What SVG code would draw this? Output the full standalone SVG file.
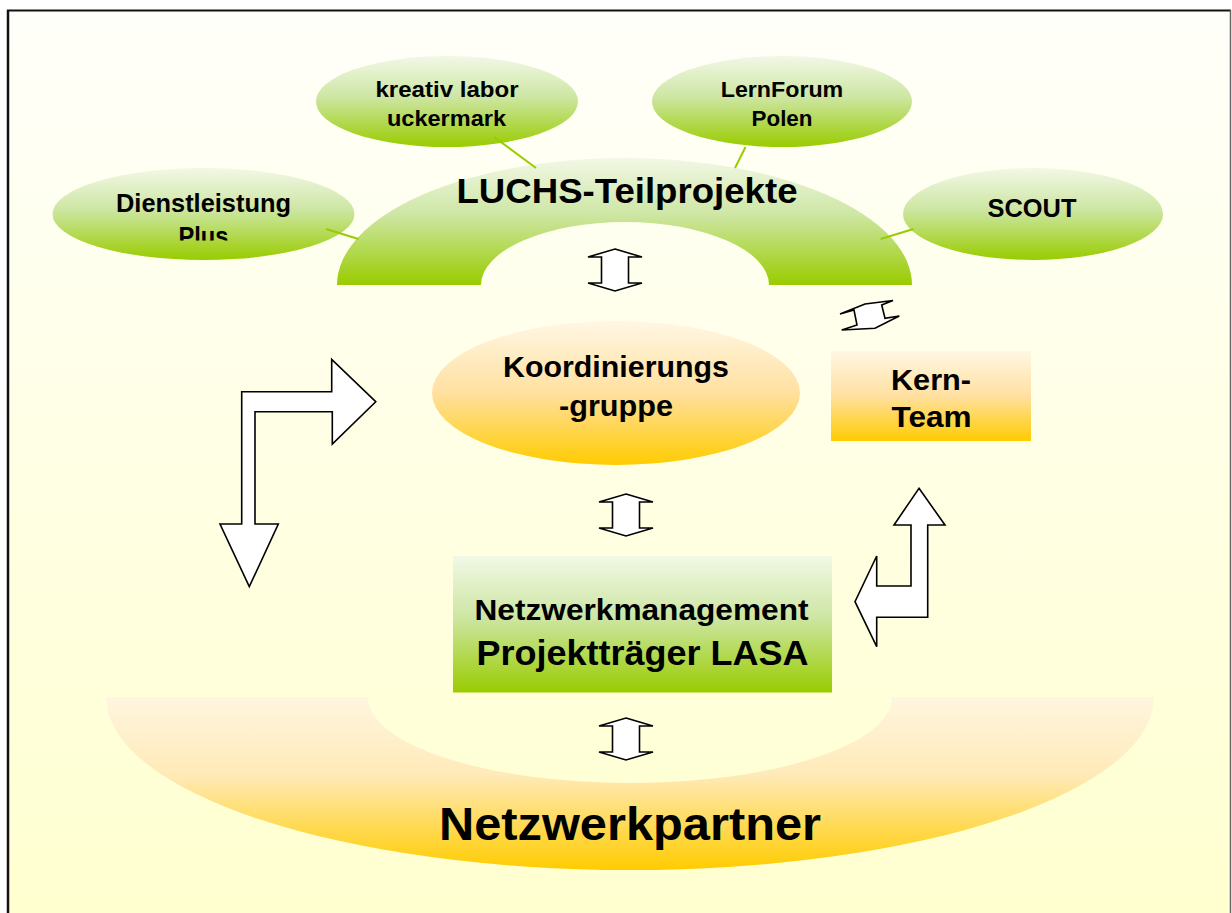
<svg xmlns="http://www.w3.org/2000/svg" width="1232" height="913" viewBox="0 0 1232 913">
  <defs>
    <linearGradient id="bg" x1="0" y1="0" x2="0" y2="1">
      <stop offset="0" stop-color="#fffffa"/>
      <stop offset="1" stop-color="#ffffd0"/>
    </linearGradient>
    <linearGradient id="green" x1="0" y1="0" x2="0" y2="1">
      <stop offset="0" stop-color="#f2f8e6"/>
      <stop offset="0.45" stop-color="#cde6a3"/>
      <stop offset="1" stop-color="#99cc00"/>
    </linearGradient>
    <linearGradient id="orange" x1="0" y1="0" x2="0" y2="1">
      <stop offset="0" stop-color="#fff7e4"/>
      <stop offset="0.5" stop-color="#ffe0a0"/>
      <stop offset="1" stop-color="#ffcc00"/>
    </linearGradient>
    <linearGradient id="orangeArch" x1="0" y1="0" x2="0" y2="1">
      <stop offset="0" stop-color="#fff6e0"/>
      <stop offset="0.45" stop-color="#ffeab8"/>
      <stop offset="1" stop-color="#ffcc00"/>
    </linearGradient>
    <clipPath id="clipDL">
      <rect x="40" y="160" width="330" height="80.5"/>
    </clipPath>
    <polygon id="dbl" points="0,0 27,8 13.5,8 13.5,34 27,34 0,42 -27,34 -13.5,34 -13.5,8 -27,8"/>
  </defs>
  <style>
    .lbl { font-family: "Liberation Sans", Arial, sans-serif; font-weight: bold; fill: #000; text-anchor: middle; }
    .arrow { fill: #ffffff; stroke: #000; stroke-width: 1.6; stroke-linejoin: miter; }
    .link { stroke: #99cc00; stroke-width: 2; fill: none; }
  </style>

  <!-- frame and background -->
  <rect x="8" y="10.5" width="1223" height="903" fill="url(#bg)"/>
  <line x1="7" y1="10.5" x2="1231" y2="10.5" stroke="#111" stroke-width="2"/>
  <line x1="8" y1="10" x2="8" y2="913" stroke="#111" stroke-width="2.5"/>
  <line x1="1230.5" y1="10" x2="1230.5" y2="913" stroke="#666" stroke-width="1.5"/>

  <!-- LUCHS-Teilprojekte arch -->
  <g id="luchs">
    <path d="M 337 285 A 287.5 127 0 0 1 912 285 L 769 285 A 144 63 0 0 0 481 285 Z" fill="url(#green)"/>
    <text class="lbl" x="627" y="203.3" font-size="35" textLength="341" lengthAdjust="spacingAndGlyphs">LUCHS-Teilprojekte</text>
  </g>

  <g id="dienstleistung">
    <ellipse cx="203.5" cy="214" rx="151" ry="46" fill="url(#green)"/>
    <g clip-path="url(#clipDL)">
      <text class="lbl" x="203.5" y="211.7" font-size="25" textLength="175" lengthAdjust="spacingAndGlyphs">Dienstleistung</text>
      <text class="lbl" x="203.5" y="244.7" font-size="25" textLength="50" lengthAdjust="spacingAndGlyphs">Plus</text>
    </g>
  </g>

  <g id="kreativ">
    <ellipse cx="447" cy="101.5" rx="131" ry="45.5" fill="url(#green)"/>
    <text class="lbl" x="447" y="97" font-size="22" textLength="143" lengthAdjust="spacingAndGlyphs">kreativ labor</text>
    <text class="lbl" x="446.5" y="125.7" font-size="22" textLength="119" lengthAdjust="spacingAndGlyphs">uckermark</text>
  </g>

  <g id="lernforum">
    <ellipse cx="782" cy="101.5" rx="130" ry="45.5" fill="url(#green)"/>
    <text class="lbl" x="782" y="97.3" font-size="22" textLength="122.5" lengthAdjust="spacingAndGlyphs">LernForum</text>
    <text class="lbl" x="782" y="125.7" font-size="22" textLength="61" lengthAdjust="spacingAndGlyphs">Polen</text>
  </g>

  <g id="scout">
    <ellipse cx="1033" cy="214" rx="130" ry="46" fill="url(#green)"/>
    <text class="lbl" x="1032" y="216.7" font-size="26" textLength="89" lengthAdjust="spacingAndGlyphs">SCOUT</text>
  </g>

  <g id="koordinierung">
    <ellipse cx="616" cy="393" rx="184" ry="72" fill="url(#orange)"/>
    <text class="lbl" x="616" y="377.3" font-size="29" textLength="226" lengthAdjust="spacingAndGlyphs">Koordinierungs</text>
    <text class="lbl" x="616" y="415.7" font-size="29" textLength="114" lengthAdjust="spacingAndGlyphs">-gruppe</text>
  </g>

  <g id="kernteam">
    <rect x="831" y="351" width="200" height="90" fill="url(#orange)"/>
    <text class="lbl" x="931" y="390" font-size="30" textLength="80" lengthAdjust="spacingAndGlyphs">Kern-</text>
    <text class="lbl" x="931.5" y="426.7" font-size="30" textLength="80" lengthAdjust="spacingAndGlyphs">Team</text>
  </g>

  <g id="netzwerkmanagement">
    <rect x="453" y="556" width="379" height="136.5" fill="url(#green)"/>
    <text class="lbl" x="641.5" y="620" font-size="30" textLength="334" lengthAdjust="spacingAndGlyphs">Netzwerkmanagement</text>
    <text class="lbl" x="642.5" y="665" font-size="35" textLength="332" lengthAdjust="spacingAndGlyphs">Projektträger LASA</text>
  </g>

  <g id="netzwerkpartner">
    <path d="M 106 697 A 524 173 0 0 0 1154 697 L 892 697 A 262 86 0 0 1 368 697 Z" fill="url(#orangeArch)"/>
    <text class="lbl" x="630" y="840" font-size="46" textLength="382" lengthAdjust="spacingAndGlyphs">Netzwerkpartner</text>
  </g>

  <!-- connectors -->
  <g id="connectors">
    <line class="link" x1="326" y1="229" x2="358.5" y2="239"/>
    <line class="link" x1="494" y1="137" x2="536" y2="168"/>
    <line class="link" x1="745.5" y1="147" x2="735" y2="168"/>
    <line class="link" x1="913.5" y1="229" x2="880.7" y2="239"/>
    <use href="#dbl" class="arrow" transform="translate(615,249)"/>
    <use href="#dbl" class="arrow" transform="translate(626,494)"/>
    <use href="#dbl" class="arrow" transform="translate(626,718)"/>
    <polygon class="arrow" points="840,314 865,304 893,300.5 881.7,305 885,318.3 899.3,316 875,328.3 841.7,330 857,325 854,310"/>
    <polygon class="arrow" points="375.7,401.7 331.7,359.3 331.7,391.7 241.7,391.7 241.7,524 220,524 249.3,586.7 278.3,524 255,524 255,411.7 332.3,411.7 332.3,444"/>
    <polygon class="arrow" points="919,488.3 945,525 927.7,525 927.7,617.3 876.7,617.3 876.7,646.7 855,601.7 876.7,556 876.7,586 911,586 911,525 894,525"/>
  </g>
</svg>
